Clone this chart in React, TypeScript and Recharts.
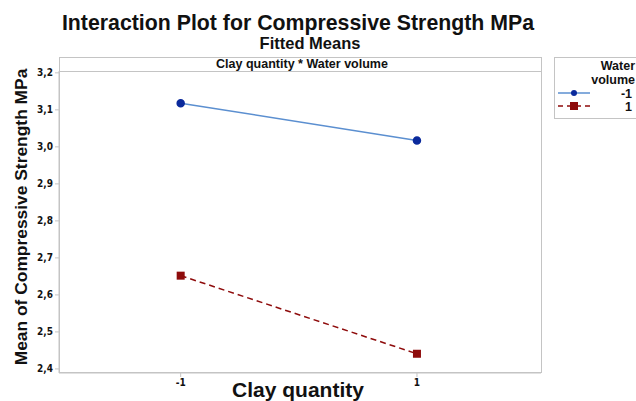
import { Line, LineChart, XAxis, YAxis } from "recharts";

const clayLevels = [-1, 1];
const waterMinus1 = [3.118, 3.017];
const waterPlus1 = [2.652, 2.441];
const yTicks = [2.4, 2.5, 2.6, 2.7, 2.8, 2.9, 3.0, 3.1, 3.2];
const xTicks = [-1, 1];
const legendLabels = ["-1", "1"];

const data = clayLevels.map((c, i) => ({
  clay: c,
  w1: waterMinus1[i],
  w2: waterPlus1[i],
}));

const BLUE_LINE = "#5b8fd0";
const BLUE_DOT = "#0b2a9c";
const RED = "#8e0b0b";
const FRAME = "#c4c4c4";
const TICK_FONT = "'Liberation Sans Narrow', 'DejaVu Sans Condensed', Arial, sans-serif";
const FONT = "'Liberation Sans', Arial, sans-serif";

const fmt = (v: number) => v.toFixed(1).replace(".", ",");

const SquareDot = (props: any) => {
  const { cx, cy } = props;
  if (cx == null || cy == null) return null;
  return <rect x={cx - 4} y={cy - 4} width={8} height={8} fill={RED} />;
};

// legend box, running off the right edge like the original
const LegendBox = () => (
  <svg width={82} height={62} style={{ position: "absolute", left: 554, top: 57 }}>
    <rect x={0.5} y={0.5} width={100} height={61} fill="#fff" stroke={FRAME} />
    <g fontFamily={FONT} fontWeight="bold" fontSize={12.5} fill="#111">
      <text x={81} y={13} textAnchor="end">Water</text>
      <text x={81} y={27} textAnchor="end">volume</text>
      <text x={78} y={41} textAnchor="end">{legendLabels[0]}</text>
      <text x={78} y={54} textAnchor="end">{legendLabels[1]}</text>
    </g>
    <line x1={4} y1={36} x2={36} y2={36} stroke={BLUE_LINE} strokeWidth={1.5} />
    <circle cx={20} cy={36} r={3} fill={BLUE_DOT} />
    <line x1={4} y1={49} x2={36} y2={49} stroke={RED} strokeWidth={1.5} strokeDasharray="5 4" />
    <rect x={16} y={45} width={8} height={8} fill={RED} />
  </svg>
);

export default function App() {
  return (
    <div style={{ position: "fixed", left: 0, top: 0, width: 636, height: 401, overflow: "hidden", background: "#fff" }}>
      <svg width={636} height={401} style={{ position: "absolute", left: 0, top: 0 }}>
        <rect x={59.5} y={57.5} width={482} height={315} fill="#fff" stroke={FRAME} />
        <line x1={59} y1={71.5} x2={541} y2={71.5} stroke={FRAME} />
      </svg>
      <LineChart
        width={636}
        height={401}
        data={data}
        margin={{ top: 71, right: 95, bottom: 0, left: 0 }}
        style={{ position: "absolute", left: 0, top: 0 }}
      >
        <XAxis
          dataKey="clay"
          type="number"
          domain={[-2.03, 2.05]}
          ticks={xTicks}
          height={28}
          axisLine={{ stroke: FRAME }}
          tickLine={{ stroke: FRAME }}
          tickSize={4}
          tick={{ fill: "#111", fontSize: 10, fontWeight: "bold", fontFamily: TICK_FONT }}
        />
        <YAxis
          type="number"
          domain={[2.389, 3.205]}
          ticks={yTicks}
          width={59}
          axisLine={{ stroke: FRAME }}
          tickLine={{ stroke: FRAME }}
          tickSize={4}
          tickFormatter={fmt}
          tick={{ fill: "#111", fontSize: 10, fontWeight: "bold", fontFamily: TICK_FONT }}
        />
        <Line
          dataKey="w1"
          stroke={BLUE_LINE}
          strokeWidth={1.5}
          dot={{ r: 3.5, fill: BLUE_DOT, stroke: BLUE_DOT }}
          isAnimationActive={false}
        />
        <Line
          dataKey="w2"
          stroke={RED}
          strokeWidth={1.5}
          strokeDasharray="6 4"
          dot={<SquareDot />}
          isAnimationActive={false}
        />
      </LineChart>
      <LegendBox />
      <svg width={636} height={401} style={{ position: "absolute", left: 0, top: 0, pointerEvents: "none" }}>
        <g fontFamily={FONT} fontWeight="bold" fill="#111">
          <text x={298} y={30} textAnchor="middle" fontSize={21.3}>
            Interaction Plot for Compressive Strength MPa
          </text>
          <text x={310} y={49} textAnchor="middle" fontSize={16.5}>
            Fitted Means
          </text>
          <text x={302} y={68} textAnchor="middle" fontSize={12.5}>
            Clay quantity * Water volume
          </text>
          <text x={27} y={217} transform="rotate(-90 27 217)" textAnchor="middle" fontSize={17.4}>
            Mean of Compressive Strength MPa
          </text>
          <text x={298} y={397} textAnchor="middle" fontSize={21}>
            Clay quantity
          </text>
        </g>
      </svg>
    </div>
  );
}
